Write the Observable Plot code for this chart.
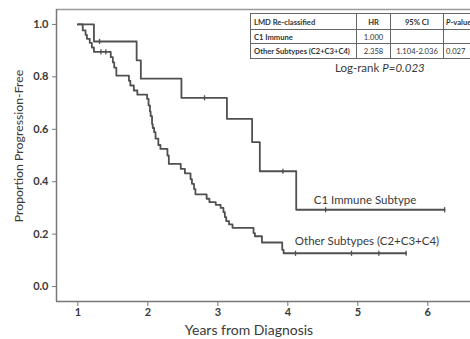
<!DOCTYPE html>
<html>
<head>
<meta charset="utf-8">
<script src="https://cdn.jsdelivr.net/npm/d3@7"></script>
<script src="https://cdn.jsdelivr.net/npm/@observablehq/plot@0.6"></script>
<style>
  html, body { margin: 0; padding: 0; background: #fff; overflow: hidden; }
  #wrap { position: relative; width: 470px; height: 339px; overflow: hidden; font-family: Lato, "Open Sans", sans-serif; color: #3a3a3a; }
  .abs { position: absolute; white-space: nowrap; }
  table.hr { position: absolute; left: 250px; top: 13px; border-collapse: collapse; table-layout: fixed; width: 253px; font-size: 7.6px; color: #333; }
  table.hr td { border: 1.3px solid #666; height: 13px; padding: 0 0 0 3px; box-sizing: border-box; white-space: nowrap; overflow: hidden; }
  table.hr td.c { text-align: center; padding: 0; }
  table.hr td.b { font-weight: bold; }
</style>
</head>
<body>
<div id="wrap"></div>
<script>
// ---- data ----
const c1Time = [1.00, 1.23, 1.84, 1.90, 2.48, 3.13, 3.49, 3.60, 4.12, 6.24];
const c1Surv = [1.000, 0.935, 0.863, 0.793, 0.720, 0.640, 0.551, 0.440, 0.293, 0.293];
const c1Censor = [1.31, 2.81, 3.93, 4.54, 6.24];

const otherTime = [1.00, 1.07, 1.11, 1.13, 1.17, 1.20, 1.23, 1.47, 1.50, 1.52, 1.55, 1.73, 1.75, 1.80, 1.85,
  1.99, 2.01, 2.03, 2.04, 2.06, 2.07, 2.09, 2.11, 2.15, 2.18, 2.28, 2.30, 2.47, 2.53, 2.61, 2.63, 2.66, 2.68,
  2.84, 2.88, 2.97, 3.04, 3.08, 3.10, 3.12, 3.16, 3.21, 3.51, 3.53, 3.63, 3.92, 3.94, 5.69];
const otherSurv = [1.000, 0.977, 0.960, 0.945, 0.930, 0.912, 0.895, 0.875, 0.855, 0.835, 0.805, 0.785, 0.767, 0.748, 0.732,
  0.716, 0.691, 0.668, 0.650, 0.620, 0.605, 0.589, 0.564, 0.540, 0.525, 0.500, 0.468, 0.449, 0.432, 0.410, 0.392, 0.372, 0.352,
  0.335, 0.322, 0.312, 0.300, 0.284, 0.265, 0.250, 0.237, 0.224, 0.204, 0.192, 0.168, 0.140, 0.127, 0.127];
const otherCensor = [1.33, 1.40, 4.11, 4.91, 5.30, 5.69];

const xTicks = [1, 2, 3, 4, 5, 6];
const yTicks = [0, 0.2, 0.4, 0.6, 0.8, 1.0];
const xDomain = [0.695, 6.61];
const yDomain = [-0.057, 1.057];

const curveLabels = ["C1 Immune Subtype", "Other Subtypes (C2+C3+C4)"];
const labelX = [4.37, 4.10];
const labelY = [0.328, 0.172];

const tableRows = [
  ["LMD Re-classified", "HR", "95% CI", "<i>P</i>-value"],
  ["C1 Immune", "1.000", "", ""],
  ["Other Subtypes (C2+C3+C4)", "2.358", "1.104-2.036", "0.027"]
];

// ---- build ----
const toRows = (ts, ss) => ts.map((t, i) => ({t, s: ss[i]}));
const survAt = (ts, ss, t) => { let v = ss[0]; for (let i = 0; i < ts.length; i++) if (ts[i] <= t) v = ss[i]; return v; };
const c1Rows = toRows(c1Time, c1Surv);
const otherRows = toRows(otherTime, otherSurv);
const censorRows = [
  ...c1Censor.map(t => ({t, s: survAt(c1Time, c1Surv, t)})),
  ...otherCensor.map(t => ({t, s: survAt(otherTime, otherSurv, t)}))
];
const labelRows = curveLabels.map((l, i) => ({l, x: labelX[i], y: labelY[i]}));

const tickSymbol = { draw(ctx, size) { const h = Math.sqrt(size / Math.PI); ctx.moveTo(0, -h); ctx.lineTo(0, h); } };
const ink = "#505050";
const axisInk = "#777";

const chart = Plot.plot({
  width: 470, height: 339,
  marginLeft: 56, marginRight: 0, marginTop: 9, marginBottom: 38,
  style: { fontFamily: "Lato, 'Open Sans', sans-serif", fontSize: "11px", color: "#3a3a3a", background: "#fff" },
  x: { domain: xDomain },
  y: { domain: yDomain },
  marks: [
    Plot.ruleY([yDomain[1]], { stroke: "#999", strokeWidth: 1.5 }),
    Plot.ruleY([yDomain[0]], { stroke: axisInk, strokeWidth: 1.5 }),
    Plot.ruleX([xDomain[0]], { stroke: axisInk, strokeWidth: 1.5 }),
    Plot.axisX({ ticks: xTicks, tickSize: 5, tickPadding: 2, tickFormat: d3.format("d"), label: null, stroke: axisInk, fontWeight: "bold" }),
    Plot.axisY({ ticks: yTicks, tickSize: 4, tickPadding: 4, tickFormat: d3.format(".1f"), label: null, stroke: axisInk, fontWeight: "bold" }),
    Plot.line(c1Rows, { x: "t", y: "s", curve: "step-after", stroke: ink, strokeWidth: 1.8 }),
    Plot.line(otherRows, { x: "t", y: "s", curve: "step-after", stroke: ink, strokeWidth: 1.8 }),
    Plot.dot(censorRows, { x: "t", y: "s", symbol: tickSymbol, r: 2.6, fill: "none", stroke: ink, strokeWidth: 1.3 }),
    Plot.text(labelRows, { x: "x", y: "y", text: "l", textAnchor: "start", fontSize: 11.5, fill: "#3a3a3a" })
  ]
});

const wrap = document.getElementById("wrap");
wrap.appendChild(chart);

// axis titles
const yl = document.createElement("div");
yl.className = "abs";
yl.textContent = "Proportion Progression-Free";
yl.style.cssText = "left:18px;top:146px;font-size:12.3px;transform:translate(-50%,-50%) rotate(-90deg);";
wrap.appendChild(yl);

const xl = document.createElement("div");
xl.className = "abs";
xl.textContent = "Years from Diagnosis";
xl.style.cssText = "left:249px;top:329px;font-size:14px;transform:translate(-50%,-50%);";
wrap.appendChild(xl);

// HR table
const colW = [106, 34, 53, 60];
const rowH = [16, 14, 15];
const tbl = document.createElement("table");
tbl.className = "hr";
tableRows.forEach((r, ri) => {
  const tr = document.createElement("tr");
  r.forEach((c, ci) => {
    const td = document.createElement("td");
    td.innerHTML = c;
    td.style.width = colW[ci] + "px";
    td.style.height = rowH[ri] + "px";
    if (ci > 0) td.classList.add("c");
    if (ci === 0 || ri === 0) td.classList.add("b");
    if (ci === 3) { td.style.textAlign = "left"; td.style.paddingLeft = "2px"; }
    tr.appendChild(td);
  });
  tbl.appendChild(tr);
});
wrap.appendChild(tbl);

const lr = document.createElement("div");
lr.className = "abs";
lr.innerHTML = "Log-rank <i>P=0.023</i>";
lr.style.cssText = "left:335px;top:61px;font-size:11.5px;";
wrap.appendChild(lr);
</script>
</body>
</html>
